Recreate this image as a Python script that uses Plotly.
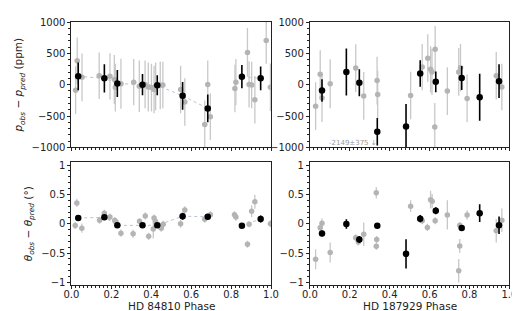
import plotly.graph_objects as go

# ---------------- HD 84810 : polarization residuals (ppm) ----------------
l_gray_phase = [0.021, 0.029, 0.053, 0.139, 0.193, 0.215, 0.220, 0.248, 0.312, 0.340,
                0.369, 0.385, 0.401, 0.414, 0.422, 0.445, 0.458, 0.547, 0.568, 0.668,
                0.683, 0.696, 0.819, 0.824, 0.882, 0.890, 0.903, 0.919, 0.976, 0.997]
l_gray_p = [-87, 383, 117, 143, 133, 82, -46, 15, 41, -26,
            5, -36, -46, -77, -26, -10, -5, -77, -276, -633,
            5, -510, -61, 41, 515, 5, -5, -240, 704, -41]
l_gray_perr = [380, 370, 380, 370, 370, 390, 380, 400, 370, 410,
               380, 390, 380, 380, 380, 380, 370, 380, 380, 380,
               380, 370, 380, 370, 390, 370, 370, 380, 370, 380]
l_black_phase = [0.034, 0.165, 0.230, 0.356, 0.430, 0.557, 0.683, 0.854, 0.948]
l_black_p = [133, 102, 20, 0, -10, -178, -378, 128, 102]
l_black_perr = [220, 225, 215, 170, 160, 220, 220, 185, 190]

# ---------------- HD 84810 : angle residuals (deg) ----------------
l_gray_phase_t = [0.019, 0.027, 0.052, 0.141, 0.165, 0.193, 0.217, 0.223, 0.248, 0.309,
                  0.341, 0.370, 0.387, 0.410, 0.414, 0.421, 0.440, 0.450, 0.460, 0.547,
                  0.568, 0.668, 0.676, 0.696, 0.817, 0.824, 0.882, 0.890, 0.903, 0.919, 0.997]
l_gray_t = [-0.03, 0.354, -0.075, 0.059, 0.177, 0.113, 0.054, 0.032, -0.16, -0.172,
            0.043, 0.134, -0.215, -0.09, 0.097, 0.043, -0.038, -0.075, -0.01, 0.0,
            0.236, 0.075, 0.11, 0.155, 0.155, 0.113, -0.35, -0.01, 0.214, 0.375, 0.0]
l_gray_terr = [0.06, 0.07, 0.08, 0.06, 0.06, 0.06, 0.06, 0.06, 0.06, 0.07,
               0.05, 0.06, 0.06, 0.16, 0.06, 0.06, 0.06, 0.06, 0.06, 0.07,
               0.06, 0.06, 0.06, 0.06, 0.06, 0.06, 0.06, 0.05, 0.10, 0.12, 0.06]
l_black_t = [0.097, 0.11, -0.027, -0.027, -0.027, 0.129, 0.118, -0.032, 0.08]
l_black_terr = [0.05, 0.04, 0.04, 0.03, 0.04, 0.06, 0.05, 0.04, 0.06]

# ---------------- HD 187929 : polarization residuals (ppm) ----------------
r_gray_phase = [0.029, 0.052, 0.061, 0.102, 0.230, 0.270, 0.337, 0.340, 0.505, 0.563,
                0.591, 0.605, 0.612, 0.628, 0.626, 0.689, 0.746, 0.755, 0.788, 0.934, 0.962]
r_gray_p = [-342, 168, -214, 15, 265, -179, 66, -158, -173, 281,
            423, 245, 204, 566, -673, -102, 204, 270, -219, 143, -36]
r_gray_perr = [380, 380, 380, 390, 380, 380, 380, 380, 380, 370,
               380, 370, 370, 370, 380, 380, 380, 380, 380, 380, 370]
r_black_phase = [0.061, 0.183, 0.248, 0.338, 0.482, 0.553, 0.631, 0.761, 0.851, 0.948]
r_black_p = [-92, 204, 31, -750, -668, 179, 46, 107, -199, 56]
r_black_perr = [180, 375, 215, 220, 360, 210, 165, 190, 375, 270]
r_offscale_label = "-2149±375 ↓"
r_offscale_phase = 0.345
r_offscale_y = -930

# ---------------- HD 187929 : angle residuals (deg) ----------------
r_gray_phase_t = [0.029, 0.052, 0.061, 0.102, 0.230, 0.243, 0.270, 0.333, 0.335, 0.333,
                  0.505, 0.563, 0.589, 0.605, 0.613, 0.628, 0.689, 0.751, 0.751, 0.746,
                  0.788, 0.934, 0.962]
r_gray_t = [-0.605, -0.067, 0.01, -0.49, -0.24, -0.31, -0.18, 0.528, -0.267, -0.385,
            0.30, 0.05, -0.062, 0.41, 0.385, 0.05, 0.15, -0.026, -0.38, -0.80,
            0.15, -0.12, 0.06]
r_gray_terr = [0.17, 0.06, 0.08, 0.17, 0.06, 0.06, 0.20, 0.10, 0.06, 0.06,
               0.10, 0.06, 0.06, 0.15, 0.12, 0.06, 0.25, 0.05, 0.12, 0.20,
               0.08, 0.20, 0.20]
r_black_t = [-0.165, -0.005, -0.267, -0.036, -0.513, 0.087, 0.22, -0.072, 0.18, -0.026]
r_black_terr = [0.05, 0.08, 0.06, 0.05, 0.25, 0.06, 0.06, 0.04, 0.15, 0.15]

x_titles = ["HD 84810 Phase", "HD 187929 Phase"]
x_ticks = [0.0, 0.2, 0.4, 0.6, 0.8, 1.0]
x_ticklabels = ["0.0", "0.2", "0.4", "0.6", "0.8", "1.0"]
p_ticks = [-1000, -500, 0, 500, 1000]
p_ticklabels = ["\u22121000", "\u2212500", "0", "500", "1000"]
t_ticks = [-1, -0.5, 0, 0.5, 1]
t_ticklabels = ["\u22121", "\u22120.5", "0", "0.5", "1"]

GRAY = "#b4b4b4"
GRAY_ERR = "#c8c8c8"
LINE = "#b9c2da"
FONT = "DejaVu Sans"
INK = "#222222"

fig = go.Figure()


def add_panel(xa, ya, gx, gy, ge, bx, by, be, line_break=None):
    if line_break is not None:
        lx, ly = [], []
        for i, (a, b) in enumerate(zip(bx, by)):
            if i == line_break:
                lx.append(None)
                ly.append(None)
            lx.append(a)
            ly.append(b)
        fig.add_trace(go.Scatter(x=lx, y=ly, mode="lines", xaxis=xa, yaxis=ya,
                                 line=dict(color=LINE, width=1, dash="dot"),
                                 showlegend=False, hoverinfo="skip"))
    fig.add_trace(go.Scatter(x=gx, y=gy, mode="markers", xaxis=xa, yaxis=ya,
                             marker=dict(color=GRAY, size=5.5),
                             error_y=dict(type="data", array=ge, color=GRAY_ERR,
                                          thickness=1.3, width=0),
                             showlegend=False))
    fig.add_trace(go.Scatter(x=bx, y=by, mode="markers", xaxis=xa, yaxis=ya,
                             marker=dict(color="black", size=6.5),
                             error_y=dict(type="data", array=be, color="black",
                                          thickness=1.6, width=0),
                             showlegend=False))


add_panel("x3", "y3", l_gray_phase, l_gray_p, l_gray_perr,
          l_black_phase, l_black_p, l_black_perr, line_break=7)
add_panel("x4", "y4", r_gray_phase, r_gray_p, r_gray_perr,
          r_black_phase, r_black_p, r_black_perr)
add_panel("x", "y", l_gray_phase_t, l_gray_t, l_gray_terr,
          l_black_phase, l_black_t, l_black_terr, line_break=7)
add_panel("x2", "y2", r_gray_phase_t, r_gray_t, r_gray_terr,
          r_black_phase, r_black_t, r_black_terr)

fig.add_annotation(x=r_offscale_phase, y=r_offscale_y, xref="x4", yref="y4",
                   text=r_offscale_label, showarrow=False, xanchor="right",
                   yanchor="middle", font=dict(family=FONT, size=7, color="#999999"))

xl = [0.110, 0.506]
xr = [0.583, 0.979]
yt = [0.552, 0.970]
yb = [0.092, 0.503]

for dom, title in zip([xl, xr], x_titles):
    fig.add_annotation(x=(dom[0] + dom[1]) / 2, y=0.022, xref="paper", yref="paper",
                       text=title, showarrow=False, xanchor="center", yanchor="middle",
                       font=dict(family=FONT, size=10.5, color=INK))

common_x = dict(range=[0, 1], tickvals=x_ticks, ticktext=x_ticklabels, ticks="outside",
                ticklen=3, tickwidth=1, tickcolor=INK, showgrid=False, zeroline=False,
                showline=True, linecolor=INK, linewidth=1, mirror=True,
                ticklabelstandoff=-3,
                minor=dict(ticks="outside", ticklen=2, dtick=0.02, tickcolor=INK),
                tickfont=dict(family=FONT, size=10, color=INK))
common_y = dict(ticks="outside", ticklen=3, tickwidth=1, tickcolor=INK,
                showgrid=False, zeroline=False, showline=True, linecolor=INK,
                linewidth=1, mirror=True,
                tickfont=dict(family=FONT, size=10, color=INK))

fig.update_layout(
    width=520, height=311,
    margin=dict(l=0, r=0, t=0, b=0),
    paper_bgcolor="white", plot_bgcolor="white",
    font=dict(family=FONT, size=10, color=INK),
    xaxis=dict(common_x, domain=xl, anchor="y"),
    xaxis2=dict(common_x, domain=xr, anchor="y2"),
    xaxis3=dict(common_x, domain=xl, anchor="y3", showticklabels=False),
    xaxis4=dict(common_x, domain=xr, anchor="y4", showticklabels=False),
    yaxis=dict(common_y, domain=yb, anchor="x", range=[-1.05, 1.05],
               tickvals=t_ticks, ticktext=t_ticklabels,
               minor=dict(ticks="outside", ticklen=2, dtick=0.1, tickcolor=INK),
               title=dict(text="<i>θ</i><sub><i>obs</i></sub> \u2212 <i>θ</i><sub><i>pred</i></sub> (°)",
                          standoff=6, font=dict(family=FONT, size=10.5))),
    yaxis2=dict(common_y, domain=yb, anchor="x2", range=[-1.05, 1.05],
                tickvals=t_ticks, ticktext=t_ticklabels,
                minor=dict(ticks="outside", ticklen=2, dtick=0.1, tickcolor=INK)),
    yaxis3=dict(common_y, domain=yt, anchor="x3", range=[-1000, 1000],
                tickvals=p_ticks, ticktext=p_ticklabels,
                minor=dict(ticks="outside", ticklen=2, dtick=100, tickcolor=INK),
                title=dict(text="<i>p</i><sub><i>obs</i></sub> \u2212 <i>p</i><sub><i>pred</i></sub> (ppm)",
                           standoff=6, font=dict(family=FONT, size=10.5))),
    yaxis4=dict(common_y, domain=yt, anchor="x4", range=[-1000, 1000],
                tickvals=p_ticks, ticktext=p_ticklabels,
                minor=dict(ticks="outside", ticklen=2, dtick=100, tickcolor=INK)),
)

fig.write_html("out.html")
